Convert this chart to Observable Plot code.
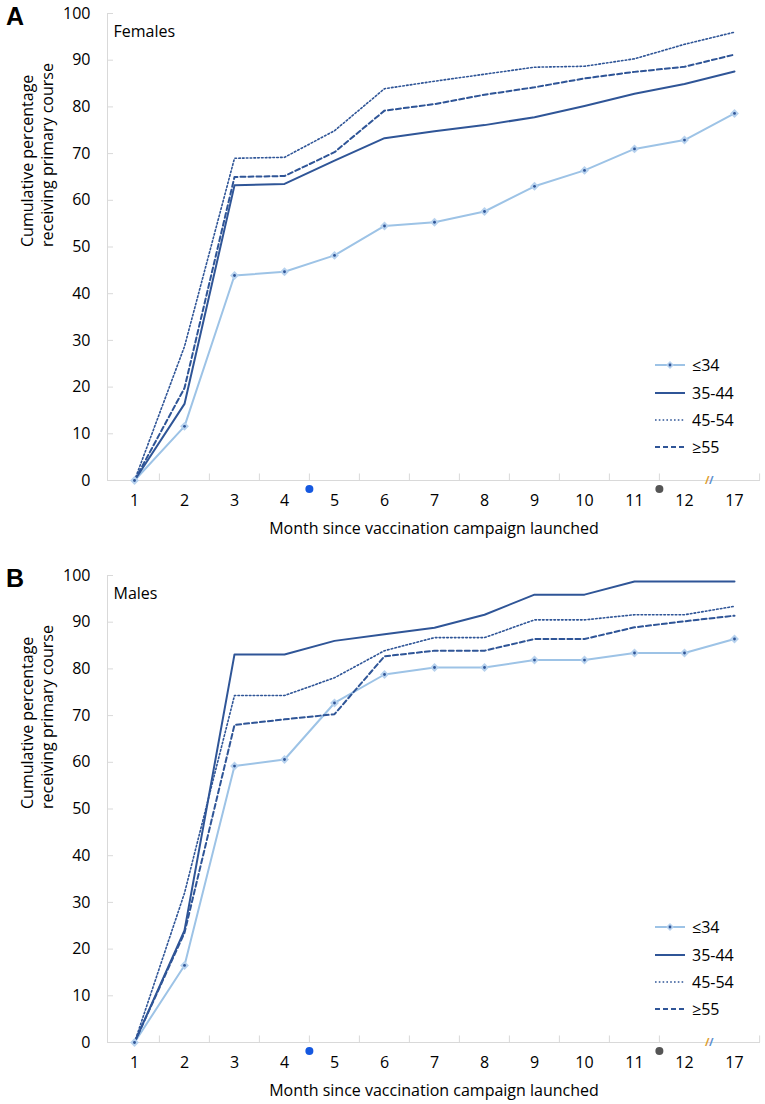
<!DOCTYPE html>
<html><head><meta charset="utf-8">
<script src="https://cdn.jsdelivr.net/npm/d3@7"></script>
<script src="https://cdn.jsdelivr.net/npm/@observablehq/plot@0.6"></script>
<style>
body{margin:0;background:#fff;font-family:"Open Sans",sans-serif;}
#wrap{position:relative;width:765px;height:1104px;overflow:hidden;background:#fff}
.panel{position:absolute;left:0;width:765px;height:552px}
.letter{position:absolute;left:6px;font-family:"Liberation Sans",Arial,sans-serif;font-weight:bold;font-size:25px;line-height:25px}
.legend{position:absolute;left:655px;font-size:16px;color:#000}
.legend .item{position:absolute;left:0;height:20px;white-space:nowrap}
.legend svg{position:absolute;left:0;top:5px}
.legend span{position:absolute;left:37px;top:0;line-height:20px}
</style></head>
<body><div id="wrap"></div>
<script>
const months = ["1","2","3","4","5","6","7","8","9","10","11","12","17"];
const groups = ["≤34","35-44","45-54","≥55"];
const yTicks = [0,10,20,30,40,50,60,70,80,90,100];

const femalesLe34 = [0, 11.6, 43.9, 44.7, 48.2, 54.5, 55.3, 57.6, 63.0, 66.4, 71.0, 72.9, 78.6];
const females3544 = [0, 16.4, 63.2, 63.5, 68.5, 73.3, 74.8, 76.1, 77.8, 80.2, 82.8, 84.9, 87.6];
const females4554 = [0, 28.7, 69.0, 69.2, 74.9, 83.9, 85.5, 87.0, 88.5, 88.7, 90.3, 93.4, 96.0];
const femalesGe55 = [0, 19.8, 65.0, 65.2, 70.3, 79.2, 80.6, 82.6, 84.2, 86.1, 87.5, 88.6, 91.2];

const malesLe34 = [0, 16.5, 59.2, 60.6, 72.7, 78.8, 80.3, 80.3, 81.9, 81.9, 83.4, 83.4, 86.4];
const males3544 = [0, 24.0, 83.1, 83.1, 86.0, 87.4, 88.8, 91.6, 95.9, 95.9, 98.7, 98.7, 98.7];
const males4554 = [0, 32.0, 74.3, 74.3, 78.1, 83.9, 86.7, 86.7, 90.5, 90.5, 91.6, 91.6, 93.4];
const malesGe55 = [0, 23.5, 68.0, 69.2, 70.3, 82.7, 83.9, 83.9, 86.4, 86.4, 88.9, 90.2, 91.4];

// events marked under the axis: placed between the given month and the previous one
const eventMonths = ["5", "12"];
const eventColors = ["#1558e0", "#555555"];
const breakBefore = "17";

const styles = {
  "≤34":  {stroke:"#9dc3e6", strokeWidth:2, dash:null},
  "35-44":{stroke:"#2f5597", strokeWidth:2, dash:null},
  "45-54":{stroke:"#2f5597", strokeWidth:1.6, dash:"1.6,2.2"},
  "≥55":  {stroke:"#2f5597", strokeWidth:2, dash:"5,3"}
};

function rows(series){
  const out = [];
  groups.forEach((g,gi)=>months.forEach((m,i)=>out.push({group:g, month:m, value:series[gi][i]})));
  return out;
}

const W = 765, H = 552, mL = 107, mR = 5, mT = 13, mB = 72;
const step = (W - mL - mR) / months.length;

function panel(series, sexLabel){
  const data = rows(series);
  const lineMarks = groups.map(g => Plot.line(data.filter(d=>d.group===g), {
    x:"month", y:"value", stroke: styles[g].stroke, strokeWidth: styles[g].strokeWidth,
    strokeDasharray: styles[g].dash, strokeLinejoin:"round"
  }));
  const young = data.filter(d=>d.group==="≤34");
  const boundaries = months.slice(1).filter(m=>m!==breakBefore);
  return Plot.plot({
    width: W, height: H, marginTop: mT, marginBottom: mB, marginLeft: mL, marginRight: mR,
    x: {type:"point", domain: months, padding: 0.5, axis: null},
    y: {domain: [0,100], axis: null},
    style: {fontFamily: "'Open Sans', sans-serif", fontSize: "16px", color: "#000", background: "#fff"},
    marks: [
      Plot.frame({anchor:"left", stroke:"#d9d9d9"}),
      Plot.ruleY([0], {stroke:"#d9d9d9"}),
      Plot.ruleX(boundaries, {x: d=>d, y1: 0, y2: 1.4, dx: -step/2, stroke:"#d9d9d9"}),
      Plot.ruleX([months[months.length-1]], {x: d=>d, y1: 0, y2: 1.4, dx: step/2, stroke:"#d9d9d9"}),
      Plot.axisY(yTicks, {tickSize: -6, tickPadding: 23, stroke:"#d9d9d9", fill:"#000", fontSize: 16, label: null}),
      Plot.axisX(months, {tickSize: 0, tickPadding: 14, fill:"#000", fontSize: 16, label: null}),
      Plot.text(["Month since vaccination campaign launched"], {frameAnchor:"bottom", dy: 48, lineAnchor:"middle", fontSize: 16, fill:"#000"}),
      Plot.text(["Cumulative percentage\nreceiving primary course"], {frameAnchor:"left", dx: -71, rotate: -90, fontSize: 16, lineHeight: 1.25, fill:"#000"}),
      Plot.text([sexLabel], {frameAnchor:"top-left", dx: 6, dy: 18, lineAnchor:"middle", fontSize: 16, fill:"#000"}),
      ...lineMarks,
      Plot.dot(young, {x:"month", y:"value", symbol:"diamond2", r: 4, fill:"#b7d2ee", stroke:"none"}),
      Plot.dot(young, {x:"month", y:"value", r: 1.4, fill:"#2f5597", stroke:"none"}),
      Plot.dot(eventMonths, {x: d=>d, y: ()=>0, dx: -step/2, dy: 8.5, r: 4, fill: (d,i)=>eventColors[i], stroke:"none"}),
      Plot.text([breakBefore], {x: d=>d, y: ()=>0, dx: -step/2 - 2, text: ()=>"/", fontSize: 11, fontWeight:"bold", fill:"#e0a030"}),
      Plot.text([breakBefore], {x: d=>d, y: ()=>0, dx: -step/2 + 2, text: ()=>"/", fontSize: 11, fontWeight:"bold", fill:"#5b8fd0"})
    ]
  });
}

function legend(top){
  const div = document.createElement("div");
  div.className = "legend";
  div.style.top = top + "px";
  const gaps = [0, 27.5, 54.5, 82];
  groups.forEach((g,i)=>{
    const s = styles[g];
    const item = document.createElement("div");
    item.className = "item";
    item.style.top = gaps[i] + "px";
    let marker = g==="≤34" ? `<path d="M15,1 L19,5 L15,9 L11,5Z" fill="#b7d2ee"/><circle cx="15" cy="5" r="1.4" fill="#2f5597"/>` : "";
    item.innerHTML = `<svg width="32" height="10"><line x1="0" x2="30" y1="5" y2="5" stroke="${s.stroke}" stroke-width="${s.strokeWidth}" ${s.dash?`stroke-dasharray="${s.dash}"`:""}/>${marker}</svg><span>${g}</span>`;
    div.appendChild(item);
  });
  return div;
}

const wrap = document.getElementById("wrap");
const specs = [
  {top:0, letter:"A", label:"Females", series:[femalesLe34, females3544, females4554, femalesGe55]},
  {top:562, letter:"B", label:"Males", series:[malesLe34, males3544, males4554, malesGe55]}
];
specs.forEach(p=>{
  const d = document.createElement("div");
  d.className = "panel"; d.style.top = p.top + "px";
  d.appendChild(panel(p.series, p.label));
  wrap.appendChild(d);
  const l = document.createElement("div");
  l.className = "letter"; l.style.top = (p.top + 4) + "px"; l.textContent = p.letter;
  wrap.appendChild(l);
  wrap.appendChild(legend(p.top + 355));
});
</script></body></html>
